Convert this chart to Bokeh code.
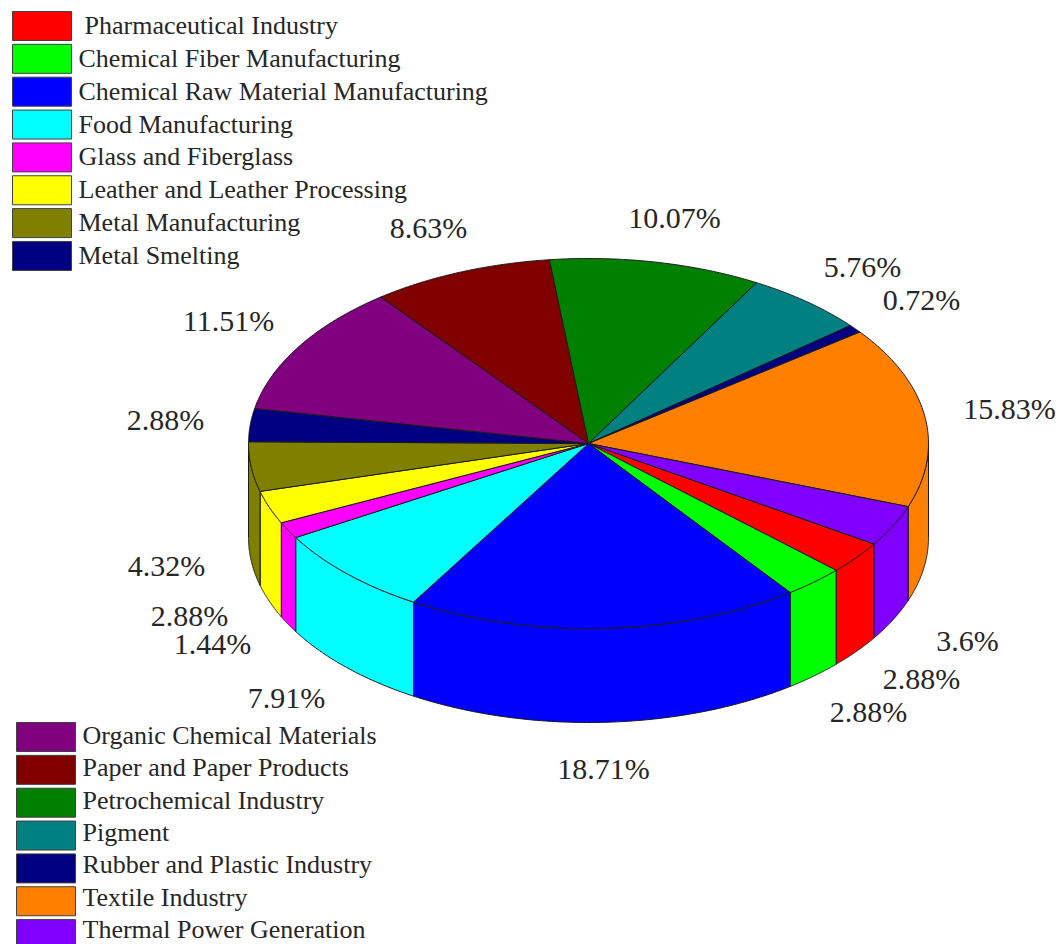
import numpy as np
from bokeh.core.properties import value
from bokeh.embed import file_html
from bokeh.models import Range1d
from bokeh.plotting import figure
from bokeh.resources import INLINE

# Sector shares in percent, in clockwise drawing order.
sectors = [
    "Pharmaceutical Industry", "Chemical Fiber Manufacturing",
    "Chemical Raw Material Manufacturing", "Food Manufacturing",
    "Glass and Fiberglass", "Leather and Leather Processing",
    "Metal Manufacturing", "Metal Smelting", "Organic Chemical Materials",
    "Paper and Paper Products", "Petrochemical Industry", "Pigment",
    "Rubber and Plastic Industry", "Textile Industry", "Thermal Power Generation",
]
shares = [2.88, 2.88, 18.71, 7.91, 1.44, 2.88, 4.32, 2.88,
          11.51, 8.63, 10.07, 5.76, 0.72, 15.83, 3.6]
share_labels = ["2.88%", "2.88%", "18.71%", "7.91%", "1.44%", "2.88%", "4.32%", "2.88%",
                "11.51%", "8.63%", "10.07%", "5.76%", "0.72%", "15.83%", "3.6%"]
colors = ["#ff0000", "#00ff00", "#0000ff", "#00ffff", "#ff00ff", "#ffff00", "#808000", "#000080",
          "#800080", "#800000", "#008000", "#008080", "#000080", "#ff8000", "#8000ff"]

# Pie geometry in page pixels.
CX, CY, RX, RY, DEPTH = 588, 443, 340, 185, 94
START_DEG = 32.9
EDGE = "#1a1a1a"
TEXT = "#262626"
SERIF = value("Liberation Serif")

# Label anchors (centre of each text), same order as the sectors.
label_x = [868, 921, 603, 286, 212, 189, 166, 165, 228, 428, 674, 862, 921, 1009, 967]
label_y = [711, 678, 768, 697, 643, 615, 565, 419, 320, 227, 217, 266, 299, 408, 640]

p = figure(width=1059, height=944, output_backend="svg", toolbar_location=None,
           x_range=Range1d(0, 1059), y_range=Range1d(944, 0), min_border=0,
           background_fill_color="white", border_fill_color="white")
p.axis.visible = False
p.grid.visible = False
p.outline_line_color = None

total = sum(shares)
edges = START_DEG + np.concatenate([[0], np.cumsum(shares)]) * 360 / total


def rim(deg, drop=0.0):
    a = np.radians(deg)
    return CX + RX * np.cos(a), CY + drop + RY * np.sin(a)


# Outer wall: only the part of each sector facing the viewer (0-180 degrees on screen).
wall_xs, wall_ys, wall_colors = [], [], []
for k, c in enumerate(colors):
    for turn in (0, 360):
        lo = max(edges[k], turn)
        hi = min(edges[k + 1], turn + 180)
        if hi <= lo:
            continue
        arc = np.linspace(lo, hi, 80)
        tx, ty = rim(arc)
        bx, by = rim(arc, DEPTH)
        wall_xs.append(np.concatenate([tx, bx[::-1]]))
        wall_ys.append(np.concatenate([ty, by[::-1]]))
        wall_colors.append(c)
p.patches(wall_xs, wall_ys, fill_color=wall_colors, line_color=EDGE, line_width=1)

# Top face wedges.
top_xs, top_ys = [], []
for k in range(len(shares)):
    arc = np.linspace(edges[k], edges[k + 1], 120)
    ax, ay = rim(arc)
    top_xs.append(np.concatenate([[CX], ax]))
    top_ys.append(np.concatenate([[CY], ay]))
p.patches(top_xs, top_ys, fill_color=colors, line_color=EDGE, line_width=1)

# Percentage labels around the pie.
p.text(label_x, label_y, text=share_labels, text_font=SERIF, text_font_size="30px",
       text_color=TEXT, text_align="center", text_baseline="middle")

# Two hand-placed key blocks: first eight sectors above, the rest below.
PITCH = 32.85
for names, cols, x0, y0, tx, ty0, tstep in (
    (sectors[:8], colors[:8], 12, 11, 78, 25, 32.85),
    (sectors[8:], colors[8:], 16, 722, 82, 735, 32.3),
):
    rows = np.arange(len(names))
    top = y0 + rows * PITCH
    p.quad(left=x0, right=x0 + 59, top=top, bottom=top + 29, fill_color=cols,
           line_color="#404040", line_width=1)
    text_x = [tx + (6 if n.startswith("Pharma") else 0) for n in names]
    p.text(text_x, ty0 + rows * tstep, text=names, text_font=SERIF, text_font_size="26px",
           text_color=TEXT, text_align="left", text_baseline="middle")

open("out.html", "w").write(file_html(p, INLINE))
